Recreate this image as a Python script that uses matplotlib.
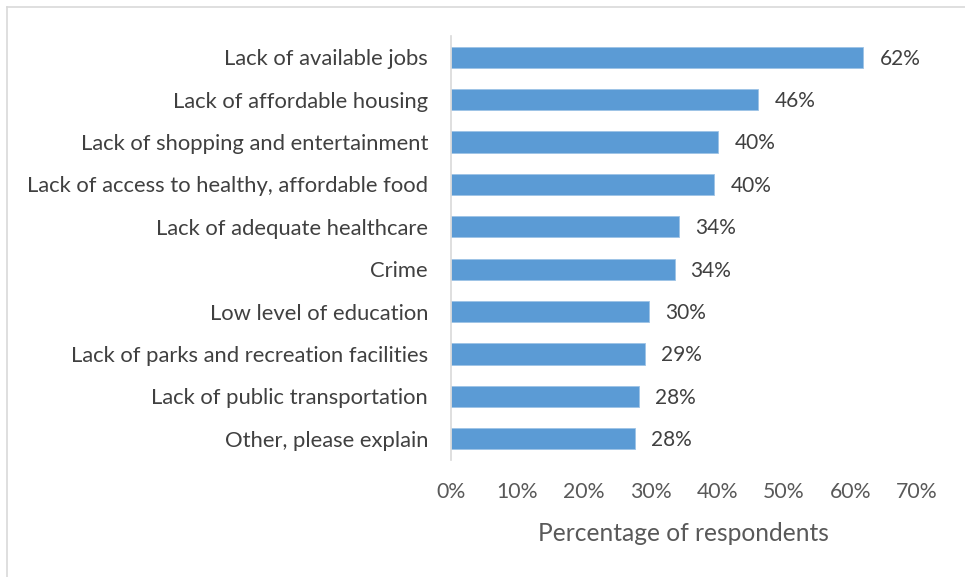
import matplotlib
matplotlib.use("Agg")
import matplotlib.pyplot as plt
from matplotlib.lines import Line2D
from matplotlib.ticker import FuncFormatter, MultipleLocator

# survey responses, top to bottom as shown
categories = [
    "Lack of available jobs",
    "Lack of affordable housing",
    "Lack of shopping and entertainment",
    "Lack of access to healthy, affordable food",
    "Lack of adequate healthcare",
    "Crime",
    "Low level of education",
    "Lack of parks and recreation facilities",
    "Lack of public transportation",
    "Other, please explain",
]
share = [62.0, 46.2, 40.2, 39.6, 34.3, 33.6, 29.8, 29.1, 28.3, 27.6]
xlabel = "Percentage of respondents"

bar_col = "#5B9BD5"
txt_col = "#404040"
tick_col = "#595959"

plt.rcParams['font.family'] = ['Lato', 'DejaVu Sans']

fig = plt.figure(figsize=(9.65, 5.77), dpi=100)
ax = fig.add_axes([451/965, 1-460/577, (916.7-451)/965, 424/577])

ypos = list(range(len(categories)))[::-1]
ax.barh(ypos, share, height=0.5, color=bar_col, edgecolor="#9DC3E6", linewidth=0.6)
for y, v in zip(ypos, share):
    ax.annotate(f"{v:.0f}%", (v, y), xytext=(11.5, -1), textcoords="offset points",
                va="center", ha="left", fontsize=15, color=txt_col)

ax.set_xlim(0, 70)
ax.set_ylim(-0.5, len(categories) - 0.5)
ax.set_yticks(ypos)
ax.set_yticklabels(categories, fontsize=15.8, color=txt_col)
ax.xaxis.set_major_locator(MultipleLocator(10))
ax.xaxis.set_major_formatter(FuncFormatter(lambda v, p: f"{v:.0f}%"))
ax.tick_params(axis="x", length=0, pad=16, labelsize=15.3, labelcolor=tick_col)
ax.tick_params(axis="y", length=0, pad=16.5)
ax.set_xlabel(xlabel, fontsize=17.7, color=tick_col, labelpad=14)

for s in ["top", "right", "bottom"]:
    ax.spines[s].set_visible(False)
ax.spines["left"].set_color("#d9d9d9")
ax.spines["left"].set_linewidth(1.2)

# outer frame, only top and left edges fall inside the image
fig.add_artist(Line2D([6.5/965, 6.5/965], [0, 1-6.5/577], transform=fig.transFigure, color="#d9d9d9", lw=1.2))
fig.add_artist(Line2D([6.5/965, 1], [1-6.5/577, 1-6.5/577], transform=fig.transFigure, color="#d9d9d9", lw=1.2))

fig.savefig("out.png", dpi=100)
